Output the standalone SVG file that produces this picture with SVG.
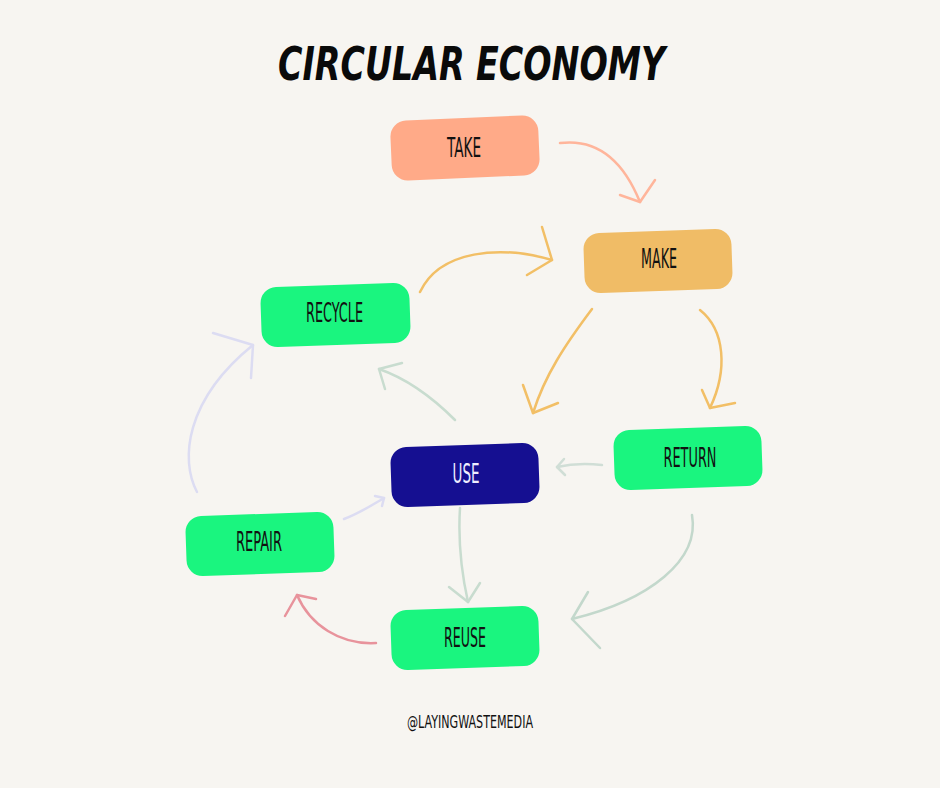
<svg xmlns="http://www.w3.org/2000/svg" width="940" height="788" viewBox="0 0 940 788">
<style>
.box{stroke:none}
.lbl{font-family:"DejaVu Sans Condensed","DejaVu Sans",sans-serif;font-size:27px;fill:#111;text-anchor:middle}
.c{fill:none;stroke-linecap:round;stroke-linejoin:round;stroke-width:2.5}
</style>
<rect x="0" y="0" width="940" height="788" fill="#f7f5f1"/>
<text x="471.5" y="80" font-family="'DejaVu Sans Condensed','DejaVu Sans',sans-serif" font-size="46" font-weight="bold" font-style="italic" fill="#0a0a0a" text-anchor="middle" textLength="387" lengthAdjust="spacingAndGlyphs">CIRCULAR ECONOMY</text>
<g id="connectors">
  <g stroke="#ffb59b" class="c"><path d="M560,143 C600,138 625,165 640,202"/><path d="M620,195 L640,202 L655,180"/></g>
  <g stroke="#f2bf66" class="c"><path d="M420,292 C440,250 500,245 552,260"/><path d="M542,227 L552,260 L527,275"/></g>
  <g stroke="#f2bf66" class="c"><path d="M592,309 C565,345 545,375 533,413"/><path d="M523,385 L533,413 L558,403"/></g>
  <g stroke="#f2bf66" class="c"><path d="M700,310 C725,330 728,370 710,408"/><path d="M702,390 L710,408 L735,403"/></g>
  <g stroke="#c8dccf" class="c"><path d="M455,420 C430,395 405,378 379,369"/><path d="M402,363 L379,369 L385,389"/></g>
  <g stroke="#d0ded6" class="c" stroke-width="2"><path d="M602,465 C585,463 570,464 557,467"/><path d="M564,459 L557,467 L565,475"/></g>
  <g stroke="#dcdcf2" class="c" stroke-width="2"><path d="M344,519 C360,513 372,505 384,498"/><path d="M375,496 L384,498 L382,506"/></g>
  <g stroke="#c8dccf" class="c"><path d="M460,508 C458,540 462,575 468,602"/><path d="M449,587 L468,602 L480,583"/></g>
  <g stroke="#c3d8cc" class="c" stroke-width="3.5"><path d="M692,515 C700,560 650,600 572,619"/><path d="M588,592 L572,619 L600,648"/></g>
  <g stroke="#e8939c" class="c"><path d="M376,643 C340,645 310,625 297,595"/><path d="M285,616 L297,595 L316,599"/></g>
  <g stroke="#dcdcf2" class="c" stroke-width="3"><path d="M197,492 C180,460 185,400 253,345"/><path d="M213,333 L253,345 L251,378"/></g>
</g>
<g id="take"><rect class="box" x="391" y="118" width="148" height="60" rx="16" fill="#ffaa88" transform="rotate(-2.5 465 148)"/><text class="lbl" x="464" y="157" textLength="34" lengthAdjust="spacingAndGlyphs">TAKE</text></g>
<g id="make"><rect class="box" x="584" y="231" width="148" height="60" rx="16" fill="#f0bc66" transform="rotate(-2 658 261)"/><text class="lbl" x="659" y="268" textLength="36" lengthAdjust="spacingAndGlyphs">MAKE</text></g>
<g id="recycle"><rect class="box" x="261" y="285" width="149" height="60" rx="16" fill="#1af57f" transform="rotate(-2 335 315)"/><text class="lbl" x="334.5" y="322" textLength="57" lengthAdjust="spacingAndGlyphs">RECYCLE</text></g>
<g id="use"><rect class="box" x="391" y="445" width="148" height="60" rx="16" fill="#150f91" transform="rotate(-2 465 475)"/><text class="lbl" x="466" y="483" fill="#eeeeff" style="fill:#eeeeff" textLength="27" lengthAdjust="spacingAndGlyphs">USE</text></g>
<g id="return"><rect class="box" x="614" y="428" width="148" height="60" rx="16" fill="#1af57f" transform="rotate(-2 688 458)"/><text class="lbl" x="690" y="467" textLength="53" lengthAdjust="spacingAndGlyphs">RETURN</text></g>
<g id="repair"><rect class="box" x="186" y="514" width="148" height="60" rx="16" fill="#1af57f" transform="rotate(-2 260 544)"/><text class="lbl" x="259" y="551" textLength="46" lengthAdjust="spacingAndGlyphs">REPAIR</text></g>
<g id="reuse"><rect class="box" x="391" y="608" width="148" height="60" rx="16" fill="#1af57f" transform="rotate(-2 465 638)"/><text class="lbl" x="465" y="647" textLength="42" lengthAdjust="spacingAndGlyphs">REUSE</text></g>
<text x="470" y="728" font-family="'DejaVu Sans Condensed','DejaVu Sans',sans-serif" font-size="17" fill="#111" text-anchor="middle" textLength="126" lengthAdjust="spacingAndGlyphs">@LAYINGWASTEMEDIA</text>
</svg>
